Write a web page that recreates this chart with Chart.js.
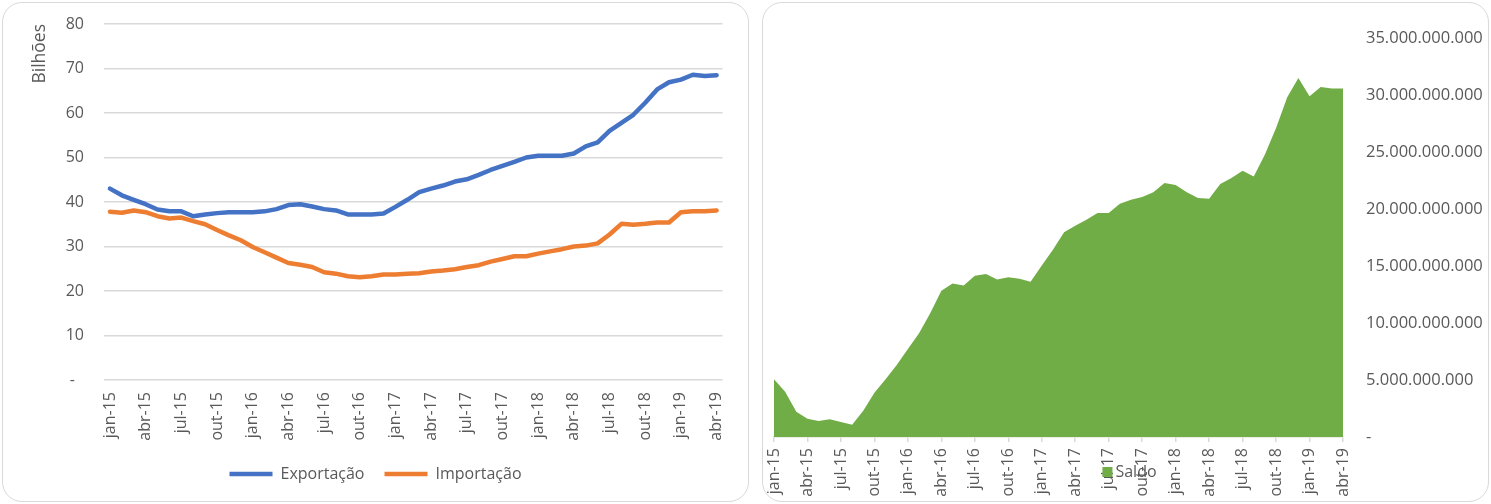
<!DOCTYPE html>
<html>
<head>
<meta charset="utf-8">
<script src="https://cdn.jsdelivr.net/npm/chart.js@4.4.1/dist/chart.umd.min.js"></script>
<style>
  body { margin: 0; background: #fff; }
  .panel { position: absolute; top: 2px; height: 500px; border: 1px solid #d9d9d9; border-radius: 20px; box-sizing: border-box; overflow: hidden; background: #fff; }
  #p1 { left: 2px; width: 747px; }
  #p2 { left: 762px; width: 727px; }
  canvas { position: absolute; left: 0; top: 0; }
</style>
</head>
<body>
<div class="panel" id="p1"><canvas id="tradeChart" width="745" height="498"></canvas></div>
<div class="panel" id="p2"><canvas id="saldoChart" width="725" height="498"></canvas></div>
<script>
const months = [
  "jan-15","fev-15","mar-15","abr-15","mai-15","jun-15","jul-15","ago-15","set-15","out-15","nov-15","dez-15",
  "jan-16","fev-16","mar-16","abr-16","mai-16","jun-16","jul-16","ago-16","set-16","out-16","nov-16","dez-16",
  "jan-17","fev-17","mar-17","abr-17","mai-17","jun-17","jul-17","ago-17","set-17","out-17","nov-17","dez-17",
  "jan-18","fev-18","mar-18","abr-18","mai-18","jun-18","jul-18","ago-18","set-18","out-18","nov-18","dez-18",
  "jan-19","fev-19","mar-19","abr-19"
];

// bilhões
const exportacao = [
  43.0, 41.5, 40.5, 39.5, 38.3, 37.9, 37.9, 36.8, 37.2, 37.5, 37.7, 37.7,
  37.7, 37.9, 38.4, 39.3, 39.5, 39.0, 38.4, 38.1, 37.2, 37.2, 37.2, 37.4,
  38.9, 40.5, 42.2, 43.0, 43.7, 44.6, 45.1, 46.1, 47.2, 48.1, 49.0, 50.0,
  50.4, 50.4, 50.4, 50.9, 52.5, 53.4, 56.0, 57.8, 59.6, 62.3, 65.3, 66.9,
  67.5, 68.6, 68.3, 68.5
];
const importacao = [
  37.8, 37.6, 38.1, 37.7, 36.8, 36.3, 36.5, 35.7, 35.0, 33.7, 32.5, 31.4,
  29.9, 28.7, 27.5, 26.3, 25.9, 25.4, 24.2, 23.9, 23.3, 23.1, 23.3, 23.7,
  23.7, 23.9, 24.0, 24.4, 24.6, 24.9, 25.4, 25.8, 26.6, 27.2, 27.8, 27.8,
  28.4, 28.9, 29.4, 30.0, 30.2, 30.7, 32.7, 35.1, 34.9, 35.1, 35.4, 35.4,
  37.7, 37.9, 37.9, 38.1
];
const saldo = [
  5060000000, 3980000000, 2220000000, 1610000000, 1410000000, 1550000000,
  1320000000, 1080000000, 2310000000, 3890000000, 5060000000, 6320000000,
  7730000000, 9100000000, 10860000000, 12820000000, 13470000000, 13290000000,
  14140000000, 14290000000, 13820000000, 14020000000, 13880000000, 13610000000,
  15050000000, 16420000000, 17970000000, 18530000000, 19060000000, 19640000000,
  19640000000, 20460000000, 20810000000, 21050000000, 21460000000, 22280000000,
  22100000000, 21460000000, 20960000000, 20900000000, 22190000000, 22720000000,
  23360000000, 22860000000, 24770000000, 27110000000, 29800000000, 31500000000,
  29890000000, 30710000000, 30560000000, 30560000000
];

Chart.defaults.font.family = "'Open Sans', sans-serif";
Chart.defaults.font.size = 16;
Chart.defaults.color = "#595959";

const everyThird = (v, i) => (i % 3 === 0 ? months[i] : "");
const dots = v => String(v).replace(/\B(?=(\d{3})+(?!\d))/g, ".");

new Chart(document.getElementById("tradeChart"), {
  type: "line",
  data: {
    labels: months,
    datasets: [
      { label: "Exportação", data: exportacao, borderColor: "#4472C4", backgroundColor: "#4472C4",
        borderWidth: 4.5, pointRadius: 0, tension: 0, borderCapStyle: "round", borderJoinStyle: "round" },
      { label: "Importação", data: importacao, borderColor: "#ED7D31", backgroundColor: "#ED7D31",
        borderWidth: 4.5, pointRadius: 0, tension: 0, borderCapStyle: "round", borderJoinStyle: "round" }
    ]
  },
  options: {
    responsive: false,
    animation: false,
    layout: { padding: { left: 21, right: 21, top: 21, bottom: 9 } },
    plugins: {
      legend: {
        position: "bottom",
        labels: { usePointStyle: true, pointStyle: "line", pointStyleWidth: 43, padding: 20, color: "#595959" }
      },
      tooltip: { enabled: false }
    },
    scales: {
      x: {
        offset: true,
        grid: { display: false, drawTicks: false },
        border: { display: false },
        ticks: { autoSkip: false, maxRotation: 90, minRotation: 90, padding: 12, callback: everyThird },
        afterFit: s => { s.height = 66; }
      },
      y: {
        min: 0, max: 80,
        ticks: { stepSize: 10, padding: 20, callback: v => (v === 0 ? "-\u2007" : v) },
        grid: { color: "#d9d9d9", lineWidth: 1.5, drawTicks: false },
        border: { display: false },
        title: { display: true, text: "Bilhões", align: "end", padding: { top: 6 }, color: "#595959", font: { size: 17.5 } },
        afterFit: s => { s.width = 80; s.paddingTop = 10; s.paddingBottom = 10; }
      }
    }
  }
});

const saldoLegend = {
  id: "saldoLegend",
  afterDraw(chart) {
    const ctx = chart.ctx;
    const ds = chart.data.datasets[0];
    ctx.save();
    ctx.font = "16px 'Open Sans', sans-serif";
    const tw = ctx.measureText(ds.label).width;
    const box = 10, gap = 3;
    const x = chart.width / 2 - (box + gap + tw) / 2 + 4;
    const y = chart.height - 29;
    ctx.fillStyle = ds.backgroundColor;
    ctx.fillRect(x, y - box / 2, box, box);
    ctx.fillStyle = "#595959";
    ctx.textBaseline = "middle";
    ctx.fillText(ds.label, x + box + gap, y);
    ctx.restore();
  }
};

new Chart(document.getElementById("saldoChart"), {
  type: "line",
  data: {
    labels: months,
    datasets: [
      { label: "Saldo", data: saldo, fill: "origin", backgroundColor: "#70AD47", borderColor: "#70AD47",
        borderWidth: 0, pointRadius: 0, tension: 0 }
    ]
  },
  options: {
    responsive: false,
    animation: false,
    layout: { padding: { left: 11, right: 0, top: 35, bottom: 0 } },
    plugins: { legend: { display: false }, tooltip: { enabled: false } },
    scales: {
      x: {
        offset: false,
        grid: {
          drawOnChartArea: false, drawTicks: true, tickLength: 5, lineWidth: 1.5,
          color: c => (c.index % 3 === 0 ? "#d9d9d9" : "rgba(0,0,0,0)")
        },
        border: { display: true, color: "#d9d9d9", width: 1.5 },
        ticks: { autoSkip: false, maxRotation: 90, minRotation: 90, padding: 6, callback: everyThird },
        afterFit: s => { s.height = 64; }
      },
      y: {
        position: "right",
        min: 0, max: 35000000000,
        ticks: { stepSize: 5000000000, padding: 23, font: { size: 16.5 }, callback: v => (v === 0 ? "-" : dots(v)) },
        grid: { display: false, drawTicks: false },
        border: { display: false },
        afterFit: s => { s.width = 145; }
      }
    }
  },
  plugins: [saldoLegend]
});
</script>
</body>
</html>
